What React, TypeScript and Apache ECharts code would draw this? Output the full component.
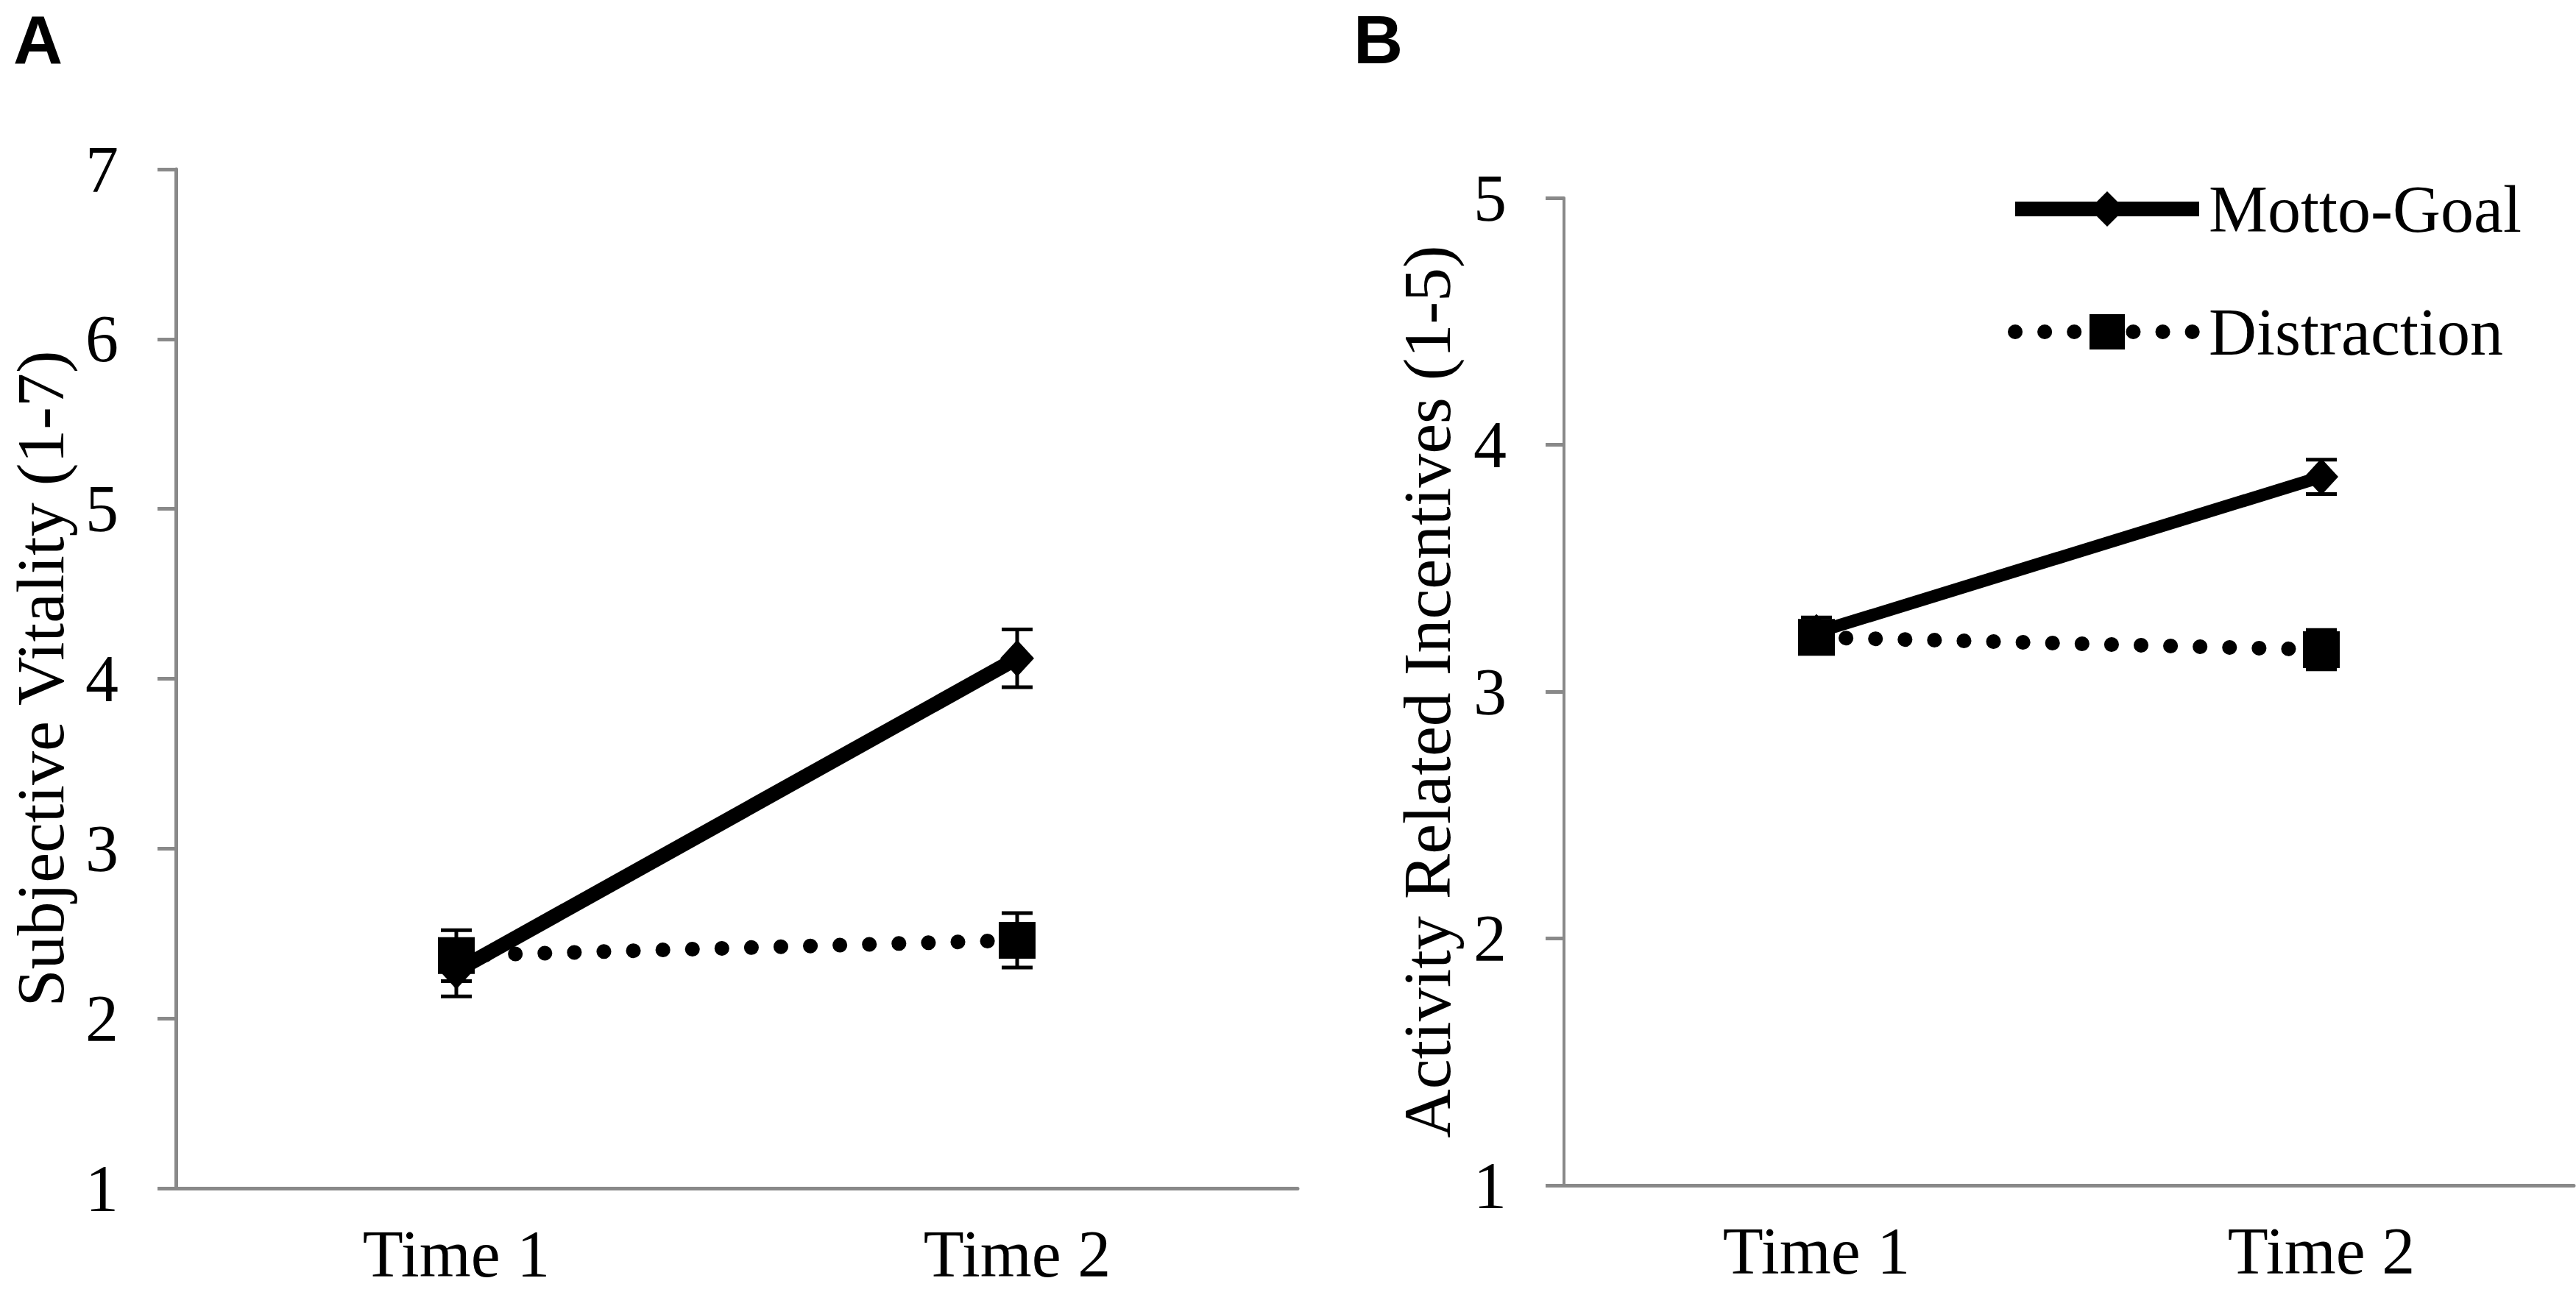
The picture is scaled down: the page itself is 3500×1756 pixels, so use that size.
import React, { useEffect, useRef } from "react";
import * as echarts from "echarts";

const timePoints = ["Time 1", "Time 2"];
const seriesNames = ["Motto-Goal", "Distraction"];

// Panel A: Subjective Vitality (1-7)
const vitalityMotto = [2.28, 4.12];
const vitalityMottoErr = [0.15, 0.17];
const vitalityDistraction = [2.37, 2.46];
const vitalityDistractionErr = [0.15, 0.16];
const vitalityTicks = { min: 1, max: 7, interval: 1 };

// Panel B: Activity Related Incentives (1-5)
const incentivesMotto = [3.24, 3.87];
const incentivesMottoErr = [0.06, 0.07];
const incentivesDistraction = [3.22, 3.17];
const incentivesDistractionErr = [0.06, 0.08];
const incentivesTicks = { min: 1, max: 5, interval: 1 };

const FONT = "Liberation Serif";
const AXIS_GRAY = "#898989";

function errData(means: number[], errs: number[]) {
  return means.map((m, i) => [i, m - errs[i], m + errs[i]]);
}

function errorSeries(name: string, idx: number, means: number[], errs: number[]) {
  return {
    type: "custom",
    name,
    xAxisIndex: idx,
    yAxisIndex: idx,
    z: 4,
    encode: { x: 0, y: [1, 2] },
    data: errData(means, errs),
    renderItem: (params: any, api: any) => {
      const x = api.value(0);
      const lo = api.coord([x, api.value(1)]);
      const hi = api.coord([x, api.value(2)]);
      const half = 21;
      const st = { stroke: "#000", lineWidth: 5 };
      return {
        type: "group",
        children: [
          { type: "line", shape: { x1: lo[0], y1: lo[1], x2: hi[0], y2: hi[1] }, style: st },
          { type: "line", shape: { x1: lo[0] - half, y1: lo[1], x2: lo[0] + half, y2: lo[1] }, style: st },
          { type: "line", shape: { x1: hi[0] - half, y1: hi[1], x2: hi[0] + half, y2: hi[1] }, style: st },
        ],
      };
    },
  };
}

function mottoSeries(idx: number, data: number[], width: number) {
  return {
    type: "line",
    name: seriesNames[0],
    xAxisIndex: idx,
    yAxisIndex: idx,
    data,
    symbol: "diamond",
    symbolSize: [46, 50],
    z: 3,
    itemStyle: { color: "#000" },
    lineStyle: { color: "#000", width, cap: "butt" },
  };
}

function distractionSeries(idx: number, data: number[]) {
  return {
    type: "line",
    name: seriesNames[1],
    xAxisIndex: idx,
    yAxisIndex: idx,
    data,
    symbol: "rect",
    symbolSize: 50,
    z: 3,
    itemStyle: { color: "#000" },
    lineStyle: { color: "#000", width: 20, type: [0.1, 40], cap: "round" },
  };
}

function xAxis(idx: number) {
  return {
    type: "category",
    gridIndex: idx,
    data: timePoints,
    boundaryGap: true,
    axisTick: { show: false },
    axisLine: { onZero: false, lineStyle: { color: AXIS_GRAY, width: 5 } },
    axisLabel: { fontSize: 90, lineHeight: 66, color: "#000", margin: 56, fontFamily: FONT },
    splitLine: { show: false },
  };
}

function yAxis(idx: number, name: string, ticks: any, nameGap: number, lineW: number) {
  return {
    type: "value",
    gridIndex: idx,
    min: ticks.min,
    max: ticks.max,
    interval: ticks.interval,
    name,
    nameLocation: "middle",
    nameRotate: 90,
    nameGap,
    nameTextStyle: { fontSize: 92, lineHeight: 76, color: "#000", fontFamily: FONT },
    axisLine: { show: true, lineStyle: { color: AXIS_GRAY, width: lineW } },
    axisTick: { show: true, length: 25, lineStyle: { color: AXIS_GRAY, width: 5 } },
    axisLabel: { fontSize: 90, color: "#000", margin: 78, fontFamily: FONT },
    splitLine: { show: false },
  };
}

export default function App() {
  const ref = useRef<HTMLDivElement>(null);
  useEffect(() => {
    document.body.style.margin = "0";
    const chart = echarts.init(ref.current!, undefined, { renderer: "svg" });
    chart.setOption({
      animation: false,
      backgroundColor: "#ffffff",
      textStyle: { fontFamily: FONT },
      grid: [
        { left: 239, top: 230, width: 1524, height: 1385 },
        { left: 2125, top: 269, width: 1372, height: 1342 },
      ],
      xAxis: [xAxis(0), xAxis(1)],
      yAxis: [
        yAxis(0, "Subjective Vitality (1-7)", vitalityTicks, 146, 5),
        yAxis(1, "Activity Related Incentives (1-5)", incentivesTicks, 148, 4),
      ],
      legend: {
        orient: "vertical",
        left: 2723,
        top: 234,
        itemWidth: 250,
        itemHeight: 60,
        itemGap: 77,
        selectedMode: false,
        data: seriesNames,
        textStyle: { fontSize: 90, color: "#000", fontFamily: FONT, lineHeight: 90, padding: [0, 0, 0, 8] },
        lineStyle: { width: "inherit" },
      },
      graphic: [
        {
          type: "text",
          x: 18,
          y: 54,
          style: { text: "A", fontSize: 93, fontWeight: "bold", fontFamily: "Liberation Sans", fill: "#000", align: "left", verticalAlign: "middle" },
        },
        {
          type: "text",
          x: 1839,
          y: 54,
          style: { text: "B", fontSize: 93, fontWeight: "bold", fontFamily: "Liberation Sans", fill: "#000", align: "left", verticalAlign: "middle" },
        },
      ],
      series: [
        distractionSeries(0, vitalityDistraction),
        mottoSeries(0, vitalityMotto, 20),
        errorSeries("errA1", 0, vitalityMotto, vitalityMottoErr),
        errorSeries("errA2", 0, vitalityDistraction, vitalityDistractionErr),
        distractionSeries(1, incentivesDistraction),
        mottoSeries(1, incentivesMotto, 17),
        errorSeries("errB1", 1, incentivesMotto, incentivesMottoErr),
        errorSeries("errB2", 1, incentivesDistraction, incentivesDistractionErr),
      ],
    });
    return () => chart.dispose();
  }, []);
  return <div ref={ref} style={{ width: 3500, height: 1756 }} />;
}
